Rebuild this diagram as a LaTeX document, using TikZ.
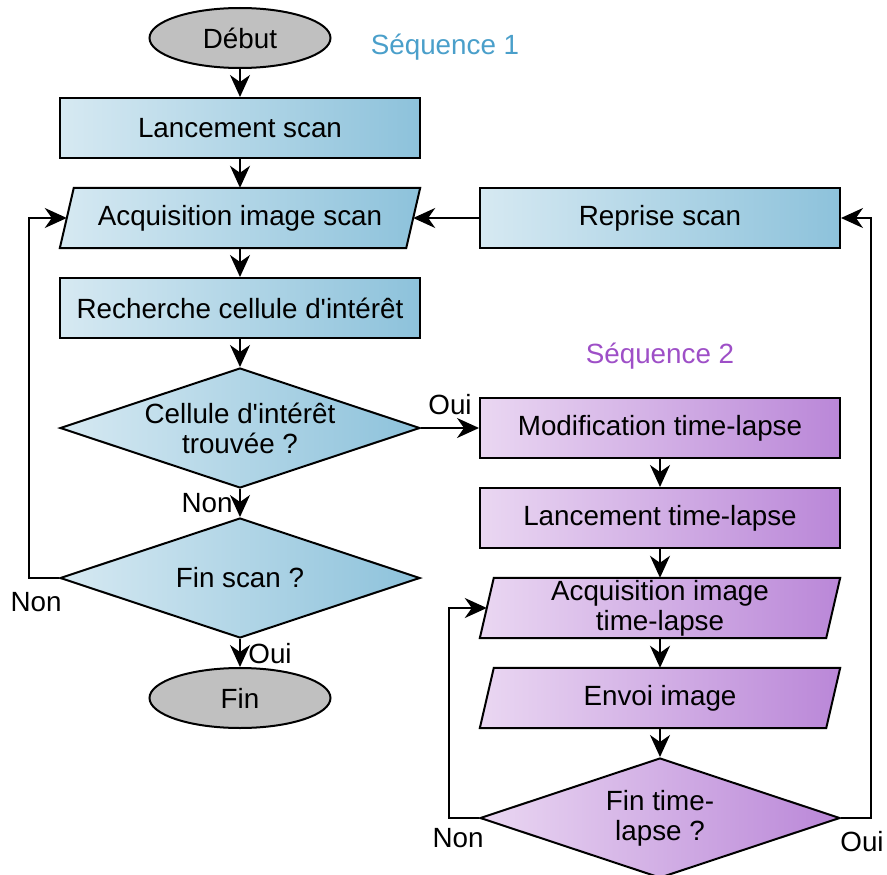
\documentclass[tikz,border=0pt]{standalone}
\usepackage{fontspec}
\newfontfamily\flowfont{Liberation Sans}
\usetikzlibrary{shapes.geometric,arrows.meta,backgrounds}
\definecolor{blueL}{HTML}{D6E9F2}
\definecolor{blueR}{HTML}{8DC2DB}
\definecolor{purpL}{HTML}{EAD7F2}
\definecolor{purpR}{HTML}{BA87D8}
\definecolor{seqblue}{HTML}{4A9FCA}
\definecolor{seqpurp}{HTML}{9E4FC7}
\definecolor{termgray}{HTML}{C0C0C0}
\tikzset{
  txt/.style={font=\flowfont\fontsize{27.8}{30}\selectfont},
  base/.style={txt, draw=black, line width=2pt, inner sep=0pt, align=center},
  bluefill/.style={left color=blueL, right color=blueR},
  purpfill/.style={left color=purpL, right color=purpR},
  term/.style={base, ellipse, fill=termgray, minimum width=181pt, minimum height=60pt},
  procbox/.style={base, rectangle, minimum width=360pt, minimum height=60pt},
  % text holder of a slanted data box; its outline is drawn on the background layer
  iobox/.style={txt, rectangle, inner sep=0pt, align=center, minimum width=346pt, minimum height=60pt},
  decide/.style={base, diamond, aspect=3, minimum width=360pt, minimum height=120pt},
  flow/.style={line width=2pt, -{Stealth[length=22pt, width=20pt, inset=7pt]}}
}
\begin{document}
\begin{tikzpicture}[x=1pt, y=-1pt]
\useasboundingbox (0,0) rectangle (887,875);

% Sequence 1: scanning
\node[term] (debut) at (240,38) {Début};
\node[procbox, bluefill] (lancscan) at (240,128) {Lancement scan};
\node[iobox] (acqscan) at (240,218) {Acquisition image scan};
\node[procbox, bluefill] (reprise) at (660,218) {Reprise scan};
\node[procbox, bluefill] (recherche) at (240,308) {Recherche cellule d'intérêt};
\node[decide, bluefill] (trouvee) at (240,428) {Cellule d'intérêt\\trouvée ?};
\node[decide, bluefill] (finscan) at (240,578) {Fin scan ?};
\node[term] (fin) at (240,698) {Fin};

% Sequence 2: time-lapse
\node[procbox, purpfill] (modif) at (660,428) {Modification time-lapse};
\node[procbox, purpfill] (lanctl) at (660,518) {Lancement time-lapse};
\node[iobox] (acqtl) at (660,608) {Acquisition image\\time-lapse};
\node[iobox] (envoi) at (660,698) {Envoi image};
\node[decide, purpfill] (fintl) at (660,818) {Fin time-\\lapse ?};

% Slanted outlines of the data boxes
\begin{scope}[on background layer]
  \foreach \n/\cl/\cr in {acqscan/blueL/blueR, acqtl/purpL/purpR, envoi/purpL/purpR}
    \draw[line width=2pt, left color=\cl, right color=\cr]
      ([xshift=7pt]\n.north west) -- ([xshift=7pt]\n.north east)
      -- ([xshift=-7pt]\n.south east) -- ([xshift=-7pt]\n.south west) -- cycle;
\end{scope}

% Section titles
\node[txt, text=seqblue] (seq1) at (445,47) {Séquence 1};
\node[txt, text=seqpurp] (seq2) at (660,356) {Séquence 2};

% Main vertical flow
\draw[flow] (debut) -- (lancscan);
\draw[flow] (lancscan) -- (acqscan);
\draw[flow] (acqscan) -- (recherche);
\draw[flow] (recherche) -- (trouvee);
\draw[flow] (trouvee) -- (finscan);
\draw[flow] (finscan) -- (fin);
\draw[flow] (modif) -- (lanctl);
\draw[flow] (lanctl) -- (acqtl);
\draw[flow] (acqtl) -- (envoi);
\draw[flow] (envoi) -- (fintl);

% Branches and loops
\draw[flow] (reprise.west) -- (acqscan.east);
\draw[flow] (trouvee.east) -- (modif.west);
\draw[flow] (finscan.west) -- ++(-30,0) |- (acqscan.west);
\draw[flow] (fintl.west) -- ++(-30,0) |- (acqtl.west);
\draw[flow] (fintl.east) -- ++(30,0) |- (reprise.east);

% Branch labels
\node[txt] (ouiA) at (450,405) {Oui};
\node[txt] (nonA) at (207,503) {Non};
\node[txt] (nonB) at (36,602) {Non};
\node[txt] (ouiB) at (270,654) {Oui};
\node[txt] (nonC) at (458,838) {Non};
\node[txt] (ouiC) at (862,842) {Oui};
\end{tikzpicture}
\end{document}
